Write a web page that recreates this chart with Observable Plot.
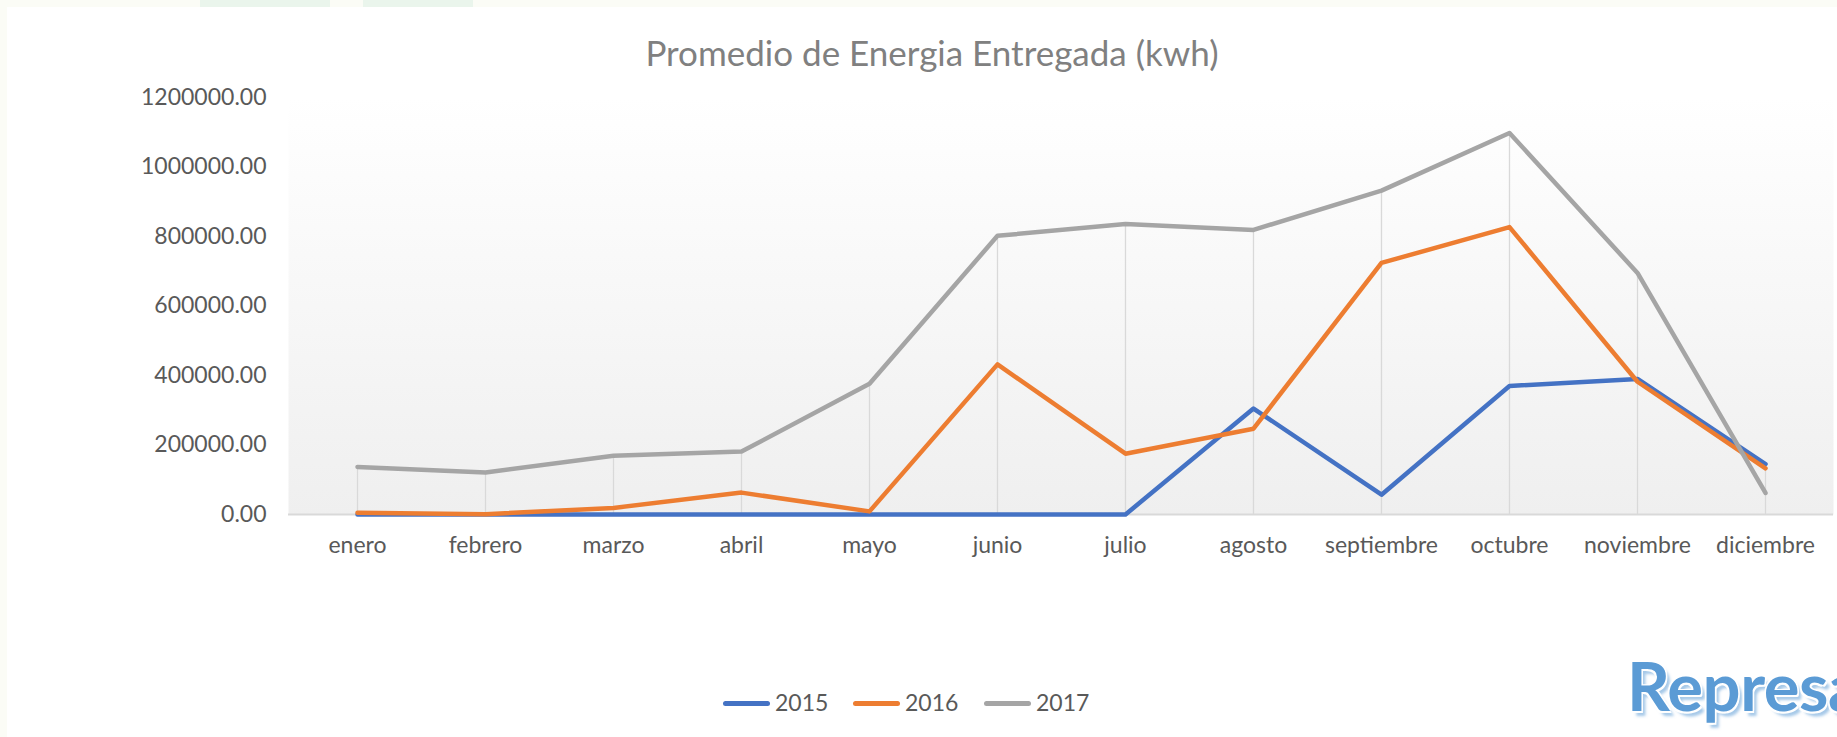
<!DOCTYPE html>
<html>
<head>
<meta charset="utf-8">
<script src="https://cdn.jsdelivr.net/npm/d3@7"></script>
<script src="https://cdn.jsdelivr.net/npm/@observablehq/plot@0.6"></script>
<style>
  html, body { margin: 0; padding: 0; }
  body { width: 1837px; height: 737px; overflow: hidden; position: relative; background: #fbfcf6; font-family: Lato, "Noto Sans", sans-serif; }
  #card { position: absolute; left: 7px; top: 7px; width: 1830px; height: 730px; background: #ffffff; }
  .mint { position: absolute; top: 0; height: 7px; background: #e6f2ea; opacity: 0.8; }
  #title { position: absolute; left: 582px; width: 700px; top: 32px; line-height: 40px; font-size: 35px; color: #808080; text-align: center; white-space: nowrap; }
  #chart { position: absolute; left: 0; top: 0; }
  .lg-line { position: absolute; width: 47px; height: 5px; border-radius: 3px; top: 701px; }
  .lg-text { position: absolute; top: 691px; font-size: 23px; line-height: 23px; color: #595959; }
  #represa { position: absolute; left: 1627px; top: 652px; font-size: 67px; line-height: 67px; font-weight: 700; letter-spacing: -0.5px; color: #5b9bd5; white-space: nowrap;
    text-shadow: 1.5px 1.5px 0 #fff, -1.5px -1.5px 0 #fff, 1.5px -1.5px 0 #fff, -1.5px 1.5px 0 #fff, 4px 5px 3px rgba(91,155,213,0.55); }
</style>
</head>
<body>
<div class="mint" style="left:200px;width:130px"></div>
<div class="mint" style="left:363px;width:110px"></div>
<div id="card"></div>
<div id="chart"></div>
<div id="title">Promedio de Energia Entregada (kwh)</div>
<div id="legend"></div>
<div id="represa">Represa</div>
<script>
// ---- data ----
const months = ["enero","febrero","marzo","abril","mayo","junio","julio","agosto","septiembre","octubre","noviembre","diciembre"];
const v2015 = [0, 0, 0, 0, 0, 0, 0, 305000, 57000, 370000, 390000, 145000];
const v2016 = [5000, 1000, 19000, 63000, 9000, 432000, 175000, 247000, 724000, 827000, 382000, 133000];
const v2017 = [137000, 121000, 169000, 181000, 376000, 802000, 836000, 819000, 932000, 1098000, 695000, 62000];
const seriesNames = ["2015", "2016", "2017"];
const seriesColors = ["#4472c4", "#ed7d31", "#a5a5a5"];
const yTicks = [0, 200000, 400000, 600000, 800000, 1000000, 1200000];

// ---- tables built from the arrays ----
const allSeries = [v2015, v2016, v2017];
const rows = [];
allSeries.forEach((vals, si) => months.forEach((m, i) => rows.push({month: m, value: vals[i], series: seriesNames[si]})));
const drops = months.map((m, i) => ({month: m, top: Math.max(v2015[i], v2016[i], v2017[i])}));

const lineMarks = seriesNames.map((s, si) =>
  Plot.line(rows.filter(r => r.series === s), {
    x: "month", y: "value", stroke: seriesColors[si], strokeWidth: 4.5,
    strokeLinejoin: "round", strokeLinecap: "round"
  })
);

const svg = Plot.plot({
  width: 1837,
  height: 600,
  marginTop: 97,
  marginBottom: 86,
  marginLeft: 288,
  marginRight: 4,
  style: { background: "transparent", fontFamily: "Lato, 'Noto Sans', sans-serif", fontSize: "23px", color: "#595959", overflow: "visible" },
  x: { domain: months, type: "point", padding: 0.5, tickSize: 0, tickPadding: 22, label: null },
  y: { domain: [0, 1200000], ticks: yTicks, tickFormat: d => d3.format(".2f")(d), tickSize: 0, tickPadding: 22, label: null },
  marks: [
    Plot.frame({ fill: "url(#plotBg)", stroke: "none" }),
    Plot.ruleX(drops, { x: "month", y1: 0, y2: "top", stroke: "#d9d9d9", strokeWidth: 1.3 }),
    Plot.ruleY([0], { stroke: "#d9d9d9", strokeWidth: 2 }),
    ...lineMarks
  ]
});
svg.insertAdjacentHTML("afterbegin",
  '<defs><linearGradient id="plotBg" x1="0" y1="0" x2="0" y2="1">' +
  '<stop offset="0" stop-color="#ffffff"/><stop offset="1" stop-color="#efefef"/></linearGradient></defs>');
document.getElementById("chart").appendChild(svg);

// ---- legend ----
const legend = document.getElementById("legend");
const legendX = [723, 853, 984];
seriesNames.forEach((s, i) => {
  const ln = document.createElement("div");
  ln.className = "lg-line";
  ln.style.left = legendX[i] + "px";
  ln.style.background = seriesColors[i];
  legend.appendChild(ln);
  const tx = document.createElement("div");
  tx.className = "lg-text";
  tx.style.left = (legendX[i] + 52) + "px";
  tx.textContent = s;
  legend.appendChild(tx);
});
</script>
</body>
</html>
